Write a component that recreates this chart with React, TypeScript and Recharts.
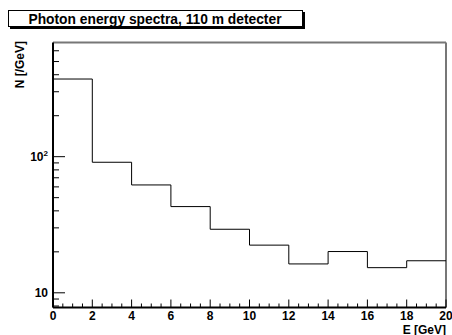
import { ComposedChart, Line, XAxis, YAxis, ReferenceLine } from "recharts";

// bin lower edges [GeV] and contents [/GeV]
const binEdges = [0, 2, 4, 6, 8, 10, 12, 14, 16, 18];
const binCounts = [372, 91, 62, 43, 29.3, 22.4, 16.3, 20.1, 15.3, 17.2];
const xMax = 20;

const xMajorTicks = [0, 2, 4, 6, 8, 10, 12, 14, 16, 18, 20];
const yTicks = [8, 9, 10, 20, 30, 40, 50, 60, 70, 80, 90, 100, 200, 300, 400, 500, 600];
const yMajorTicks = [10, 100];

const title = "Photon energy spectra, 110 m detecter";
const xTitle = "E [GeV]";
const yTitle = "N [/GeV]";

const data = [
  ...binEdges.map((e, i) => ({ e, n: binCounts[i] })),
  { e: xMax, n: binCounts[binCounts.length - 1] },
];

const xTicks: number[] = [];
for (let v = 0; v <= xMax; v += 0.5) xTicks.push(v);

const font = "'Liberation Sans', Arial, Helvetica, sans-serif";

function XTick(props: any) {
  const { x, y, payload } = props;
  const major = xMajorTicks.includes(payload.value);
  return (
    <g>
      <line x1={x} x2={x} y1={y} y2={y - (major ? 8 : 4)} stroke="#000" strokeWidth={1} />
      {major && (
        <text x={x} y={y + 12} textAnchor="middle" fontFamily={font} fontWeight="bold" fontSize={12} fill="#000">
          {payload.value}
        </text>
      )}
    </g>
  );
}

function YTick(props: any) {
  const { x, y, payload } = props;
  const major = yMajorTicks.includes(payload.value);
  return (
    <g>
      <line x1={x} x2={x + (major ? 12 : 6)} y1={y} y2={y} stroke="#000" strokeWidth={1} />
      {payload.value === 10 && (
        <text x={x - 5} y={y + 4.5} textAnchor="end" fontFamily={font} fontWeight="bold" fontSize={12} fill="#000">
          10
        </text>
      )}
      {payload.value === 100 && (
        <text x={x - 5} y={y + 4.5} textAnchor="end" fontFamily={font} fontWeight="bold" fontSize={12} fill="#000">
          10
          <tspan fontSize={8} dy={-5}>2</tspan>
        </text>
      )}
    </g>
  );
}

export default function App() {
  return (
    <div style={{ position: "fixed", left: 0, top: 0, width: 452, height: 335, background: "#fff" }}>
      <svg width={452} height={335} style={{ position: "absolute", left: 0, top: 0 }}>
        <rect x={10} y={12} width={295} height={17} fill="#000" />
        <rect x={8.5} y={10.5} width={294} height={16} fill="#fff" stroke="#000" strokeWidth={1} />
        <text x={155} y={23.5} textAnchor="middle" fontFamily={font} fontWeight="bold" fontSize={13.8} fill="#000">
          {title}
        </text>
        <text x={446} y={333.5} textAnchor="end" fontFamily={font} fontWeight="bold" fontSize={12} fill="#000">
          {xTitle}
        </text>
        <text
          transform="translate(24,41) rotate(-90)"
          textAnchor="end"
          fontFamily={font}
          fontWeight="bold"
          fontSize={12}
          fill="#000"
        >
          {yTitle}
        </text>
      </svg>
      <div style={{ position: "absolute", left: 0, top: 0 }}>
        <ComposedChart
          width={452}
          height={335}
          data={data}
          margin={{ top: 42.5, right: 6, bottom: 26.5, left: 52 }}
        >
          <XAxis
            type="number"
            dataKey="e"
            domain={[0, xMax]}
            ticks={xTicks}
            interval={0}
            height={1}
            tickSize={0}
            tickMargin={0}
            tickLine={false}
            tick={<XTick />}
            axisLine={{ stroke: "#000", strokeWidth: 2 }}
            allowDataOverflow
          />
          <YAxis
            type="number"
            scale="log"
            domain={[7.8, 690]}
            ticks={yTicks}
            interval={0}
            width={1}
            tickSize={0}
            tickMargin={0}
            tickLine={false}
            tick={<YTick />}
            axisLine={{ stroke: "#000", strokeWidth: 2 }}
            allowDataOverflow
          />
          <ReferenceLine y={690} stroke="#777" strokeWidth={2} />
          <ReferenceLine x={xMax} stroke="#777" strokeWidth={2} />
          <Line
            type="stepAfter"
            dataKey="n"
            stroke="#000"
            strokeWidth={1}
            dot={false}
            isAnimationActive={false}
          />
        </ComposedChart>
      </div>
    </div>
  );
}
